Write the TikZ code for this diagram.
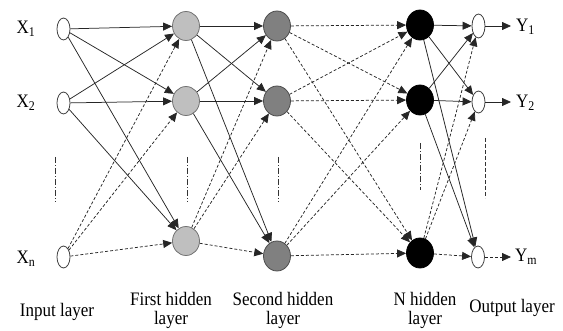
\documentclass[tikz,border=0pt]{standalone}
\usepackage{fontspec}
\usepackage{graphicx}
\setmainfont{Liberation Serif}
\usetikzlibrary{shapes.geometric,arrows.meta}
\newcommand{\stt}[1]{\scalebox{1}[1.12]{#1}}
\tikzset{
  io/.style={ellipse,draw=black!75,fill=white,line width=0.8pt,minimum width=13pt,minimum height=22pt,inner sep=0pt},
  hone/.style={ellipse,draw=black!55,fill=black!25,line width=0.8pt,minimum width=27pt,minimum height=29pt,inner sep=0pt},
  htwo/.style={ellipse,draw=black!70,fill=black!50,line width=0.8pt,minimum width=27pt,minimum height=30pt,inner sep=0pt},
  hn/.style={ellipse,draw=black,fill=black,line width=0.8pt,minimum width=27pt,minimum height=30pt,inner sep=0pt},
  sl/.style={draw=black!85,line width=0.75pt,-{Triangle[length=9pt,width=8pt]}},
  dl/.style={sl,dash pattern=on 3pt off 2pt},
  lbl/.style={font=\fontsize{17}{19}\selectfont,inner sep=0pt,align=center},
  vdd/.style={draw=black!80,line width=0.6pt,dash pattern=on 6pt off 2pt on 1pt off 2pt},
  vd/.style={draw=black!80,line width=0.6pt,dash pattern=on 4pt off 2pt}
}
\begin{document}
\begin{tikzpicture}[x=1pt,y=-1pt]
\useasboundingbox (0,0) rectangle (563,331);
% nodes
\node[io] (i1) at (63.5,29) {};
\node[io] (i2) at (63.5,103) {};
\node[io] (i3) at (63.5,257) {};
\node[hone] (a1) at (186,26) {};
\node[hone] (a2) at (186,101) {};
\node[hone] (a3) at (186,241) {};
\node[htwo] (b1) at (277,26) {};
\node[htwo] (b2) at (277,101) {};
\node[htwo] (b3) at (277,256) {};
\node[hn] (c1) at (420,25) {};
\node[hn] (c2) at (420,100) {};
\node[hn] (c3) at (420,253) {};
\node[io,minimum height=24pt] (o1) at (478.5,26) {};
\node[io] (o2) at (478.5,102) {};
\node[io] (o3) at (478,257) {};
\coordinate (e1) at (511,26);
\coordinate (e2) at (511,102);
\coordinate (e3) at (511,257);
% labels
\node[lbl] (x1) at (26,29) {\stt{X\textsubscript{1}}};
\node[lbl] (x2) at (26,103) {\stt{X\textsubscript{2}}};
\node[lbl] (x3) at (26,259) {\stt{X\textsubscript{n}}};
\node[lbl,anchor=west] (y1) at (516,27) {\stt{Y\textsubscript{1}}};
\node[lbl,anchor=west] (y2) at (516,103) {\stt{Y\textsubscript{2}}};
\node[lbl,anchor=west] (y3) at (515,257) {\stt{Y\textsubscript{m}}};
\node[lbl] (t1) at (57,312) {\stt{Input layer}};
\node[lbl] (t2) at (171,310) {\stt{First hidden}\\\stt{layer}};
\node[lbl] (t3) at (283,310) {\stt{Second hidden}\\\stt{layer}};
\node[lbl] (t4) at (425,310) {\stt{N hidden}\\\stt{layer}};
\node[lbl] (t5) at (512,308) {\stt{Output layer}};
% vertical ellipsis marks
\coordinate (v1a) at (55,157); \coordinate (v1b) at (55,202);
\coordinate (v2a) at (187,157); \coordinate (v2b) at (187,202);
\coordinate (v3a) at (278,157); \coordinate (v3b) at (278,202);
\coordinate (v4a) at (420,143); \coordinate (v4b) at (420,190);
\coordinate (v5a) at (485,138); \coordinate (v5b) at (485,198);
\draw[vdd] (v1a) -- (v1b);
\draw[vdd] (v2a) -- (v2b);
\draw[vdd] (v3a) -- (v3b);
\draw[vdd] (v4a) -- (v4b);
\draw[vd] (v5a) -- (v5b);
% input -> first
\foreach \t in {a1,a2,a3}{
  \draw[sl] (i1) -- (\t);
  \draw[sl] (i2) -- (\t);
  \draw[dl] (i3) -- (\t);
}
% first -> second
\foreach \t in {b1,b2,b3}{
  \draw[sl] (a1) -- (\t);
  \draw[sl] (a2) -- (\t);
  \draw[dl] (a3) -- (\t);
}
% second -> N
\foreach \s in {b1,b2,b3}{
  \foreach \t in {c1,c2,c3}{
    \draw[dl] (\s) -- (\t);
  }
}
% N -> output
\foreach \t in {o1,o2,o3}{
  \draw[sl] (c1) -- (\t);
  \draw[sl] (c2) -- (\t);
  \draw[dl] (c3) -- (\t);
}
\draw[sl] (o1) -- (e1);
\draw[sl] (o2) -- (e2);
\draw[dl] (o3) -- (e3);
\end{tikzpicture}
\end{document}
